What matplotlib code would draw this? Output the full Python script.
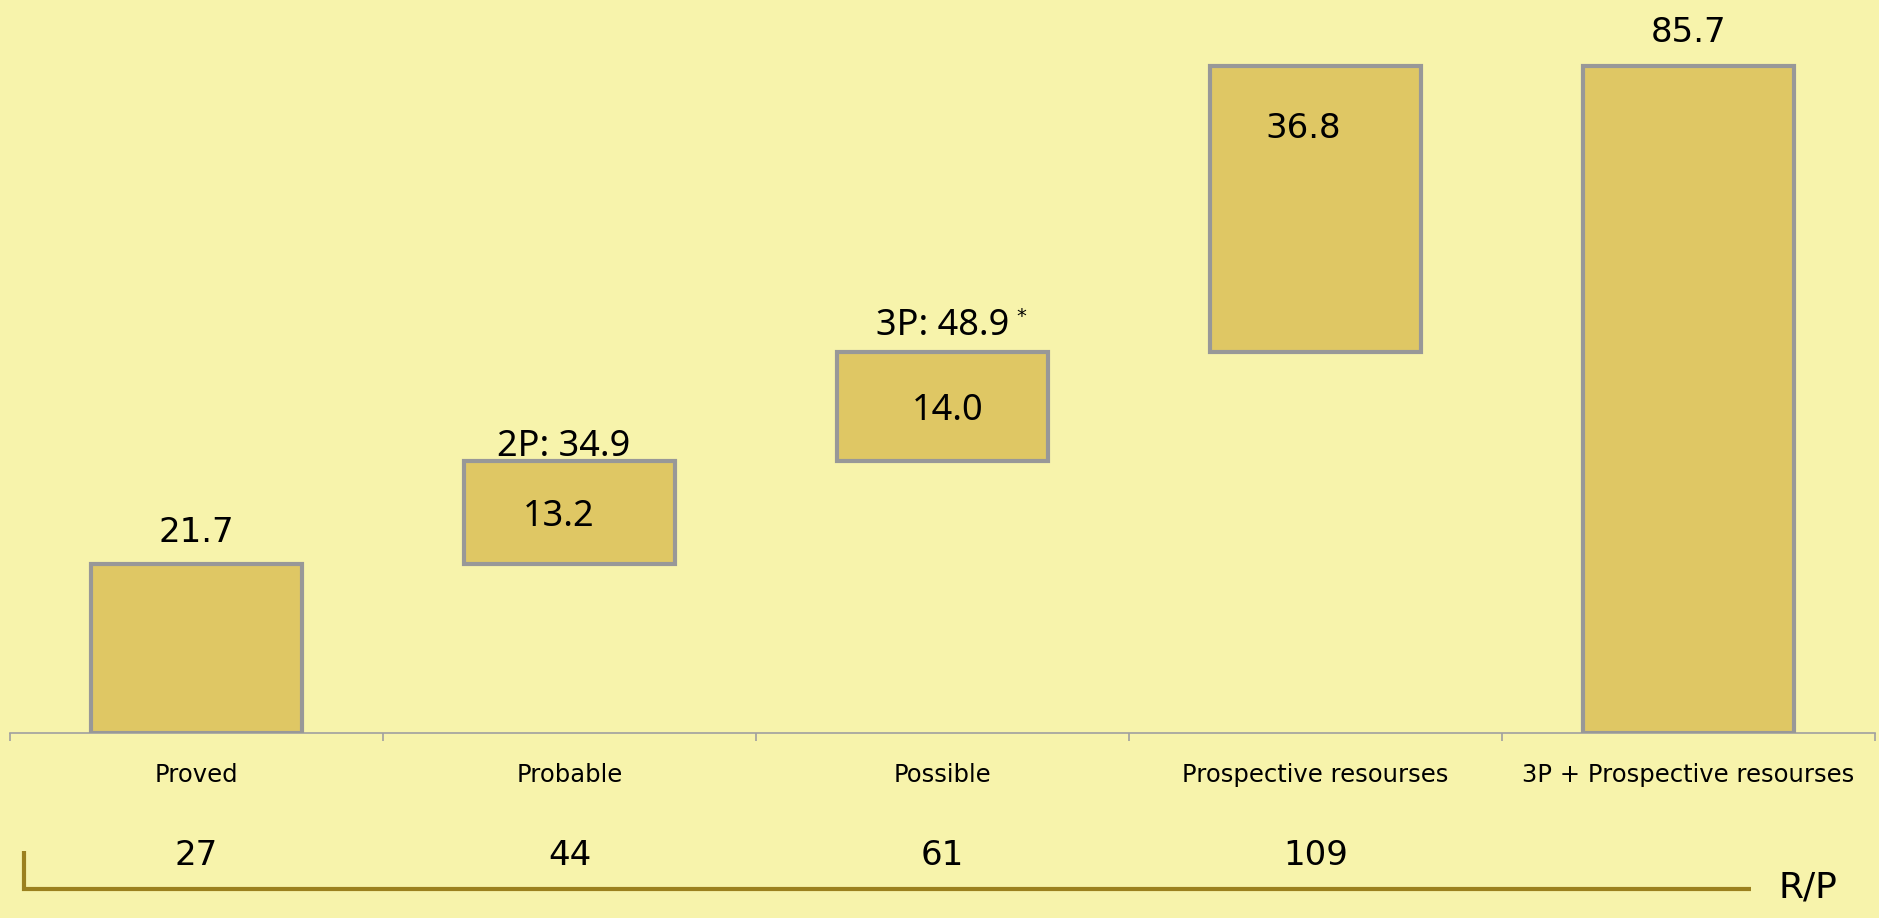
import numpy as np
import matplotlib.pyplot as plt

categories = ['Proved', 'Probable', 'Possible', 'Prospective resourses',
              '3P + Prospective resourses']
steps = [21.7, 13.2, 14.0, 36.8]
total = 85.7
rp_values = ['27', '44', '61', '109']
top_labels = ['21.7', '2P: 34.9', '3P: 48.9', None, '85.7']
inner_labels = [None, '13.2', '14.0', '36.8', None]

bg = '#F7F3AB'
fill = '#DFC764'
edge = '#989898'
gold = '#9B801E'

# waterfall: the first four bars stack, the last is the total
bottoms = [0] + list(np.cumsum(steps)[:-1])
heights = list(steps) + [total]
bottoms = bottoms + [0]
x = np.arange(len(categories))

fig = plt.figure(figsize=(18.79, 9.18), dpi=100, facecolor=bg)
ax = fig.add_axes([10/1879, 185/918, 1865/1879, 733/918])
ax.set_facecolor(bg)
ax.bar(x, heights, bottom=bottoms, width=0.565, color=fill,
       edgecolor=edge, linewidth=3, zorder=3)
ax.set_xlim(-0.5, 4.5)
ax.set_ylim(0, 94.2)

for s in ['top', 'right', 'left']:
    ax.spines[s].set_visible(False)
ax.spines['bottom'].set_color('#A0A0A0')
ax.spines['bottom'].set_linewidth(1.2)
ax.set_yticks([])
ax.set_xticks(x)
ax.set_xticklabels(categories, fontsize=17.5, family='DejaVu Sans')
ax.tick_params(axis='x', which='major', length=0, pad=21.5)
ax.set_xticks(np.arange(-0.5, 5, 1), minor=True)
ax.tick_params(axis='x', which='minor', length=6, width=1.2, color='#A0A0A0')

tops = [b + h for b, h in zip(bottoms, heights)]
num_font = dict(fontsize=24.5, family='DejaVu Sans')
alt_font = dict(fontsize=26, family='Noto Sans')

# labels above bars
ax.text(x[0], tops[0] + 2.85, top_labels[0], ha='center', va='baseline', **num_font)
ax.text(x[1] - 0.016, tops[1] + 0.75, top_labels[1], ha='center', va='baseline', **alt_font)
ax.text(x[2], tops[2] + 2.2, top_labels[2], ha='center', va='baseline', **alt_font)
ax.text(x[2] + 0.21, tops[2] + 4.6, '*', ha='center', va='center', fontsize=14,
        family='DejaVu Sans')
ax.text(x[4], tops[4] + 3.1, top_labels[4], ha='center', va='baseline', **num_font)

# labels inside bars
ax.text(x[1] - 0.03, bottoms[1] + heights[1] / 2, inner_labels[1], ha='center',
        va='center_baseline', **alt_font)
ax.text(x[2] + 0.013, bottoms[2] + heights[2] / 2, inner_labels[2], ha='center',
        va='center_baseline', **alt_font)
ax.text(x[3] - 0.033, tops[3] - 7.6, inner_labels[3], ha='center',
        va='center_baseline', **num_font)

# R/P row under the axis
ax2 = fig.add_axes([10/1879, 0, 1865/1879, 185/918])
ax2.set_xlim(-0.5, 4.5)
ax2.set_ylim(0, 1)
ax2.axis('off')
for i, v in enumerate(rp_values):
    ax2.text(x[i], 0.286, v, ha='center', va='baseline', **num_font)
ax2.plot([-0.4625, -0.4625, 4.168], [0.362, 0.157, 0.157], color=gold,
         linewidth=3, solid_capstyle='butt', solid_joinstyle='miter')
ax2.text(4.24, 0.113, 'R/P', ha='left', va='baseline', fontsize=26,
         family='DejaVu Sans')

fig.savefig('out.png', dpi=100, facecolor=bg)
